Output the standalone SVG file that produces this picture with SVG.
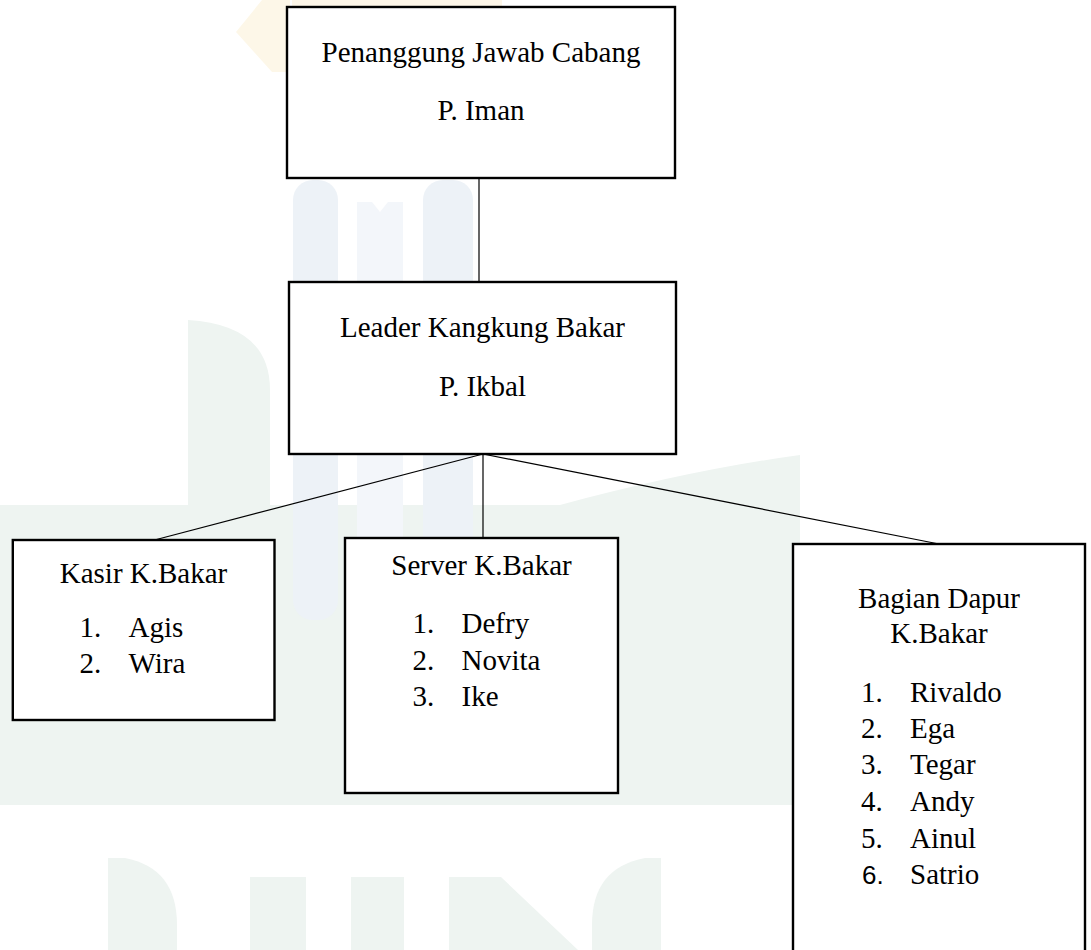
<svg xmlns="http://www.w3.org/2000/svg" width="1091" height="950" viewBox="0 0 1091 950">
<style>
.box{fill:#ffffff;stroke:#000000;stroke-width:2.4}
.con{stroke:#000000;stroke-width:1.2;fill:none}
.t{font-family:"Liberation Serif","Times New Roman",serif;font-size:29px;fill:#000000}
.c{text-anchor:middle}
.wm-g{fill:#eef4f1}
.wm-b{fill:#edf2f7}
</style>
<rect x="0" y="0" width="1091" height="950" fill="#ffffff"/>
<g id="watermark">
<path d="M262,0 L290,0 L290,72 L272,72 L236,32 Z" fill="#fdf7e8"/>
<rect x="292" y="0" width="210" height="7" fill="#fdf6e8"/>
<path class="wm-g" d="M0,505 L560,505 Q690,470 800,455 L800,805 L0,805 Z"/>
<path class="wm-g" d="M188,320 Q270,325 270,390 L270,805 L188,805 Z"/>
<rect class="wm-b" x="293" y="180" width="45" height="440" rx="20"/>
<path d="M357,202 L372,202 L380,212 L388,202 L403,202 L403,612 L357,612 Z" fill="#f3f6fa"/>
<rect class="wm-b" x="423" y="180" width="50" height="440" rx="20"/>
<path class="wm-g" d="M108,858 L125,858 Q177,868 177,925 L177,950 L108,950 Z"/>
<rect class="wm-g" x="250" y="877" width="56" height="73"/>
<rect class="wm-g" x="351" y="877" width="53" height="73"/>
<path class="wm-g" d="M449,877 L501,877 L578,950 L449,950 Z"/>
<path class="wm-g" d="M661,858 L645,858 Q592,868 592,925 L592,950 L661,950 Z"/>
</g>
<g id="connectors">
<line class="con" x1="479" y1="178" x2="479" y2="282"/>
<line class="con" x1="483" y1="454" x2="154.5" y2="540"/>
<line class="con" x1="483" y1="454" x2="483" y2="538"/>
<line class="con" x1="483" y1="454" x2="939" y2="544"/>
</g>
<g id="node-penanggung">
<rect class="box" x="287" y="7" width="388" height="171"/>
<text class="t c" x="481" y="62">Penanggung Jawab Cabang</text>
<text class="t c" x="481" y="120">P. Iman</text>
</g>
<g id="node-leader">
<rect class="box" x="289" y="282" width="387" height="172"/>
<text class="t c" x="482.5" y="337">Leader Kangkung Bakar</text>
<text class="t c" x="482.5" y="396">P. Ikbal</text>
</g>
<g id="node-kasir">
<rect class="box" x="12.8" y="540" width="261.7" height="180"/>
<text class="t c" x="143.5" y="583">Kasir K.Bakar</text>
<text class="t" x="79.5" y="637">1.</text><text class="t" x="128.5" y="637">Agis</text>
<text class="t" x="79.5" y="673">2.</text><text class="t" x="128.5" y="673">Wira</text>
</g>
<g id="node-server">
<rect class="box" x="345" y="538" width="273" height="255"/>
<text class="t c" x="481.5" y="575">Server K.Bakar</text>
<text class="t" x="412.5" y="633">1.</text><text class="t" x="461.5" y="633">Defry</text>
<text class="t" x="412.5" y="670">2.</text><text class="t" x="461.5" y="670">Novita</text>
<text class="t" x="412.5" y="706">3.</text><text class="t" x="461.5" y="706">Ike</text>
</g>
<g id="node-dapur">
<rect class="box" x="793" y="544" width="292" height="420"/>
<text class="t c" x="939" y="608">Bagian Dapur</text>
<text class="t c" x="939" y="643">K.Bakar</text>
<text class="t" x="861" y="702">1.</text><text class="t" x="910" y="702">Rivaldo</text>
<text class="t" x="861" y="738">2.</text><text class="t" x="910" y="738">Ega</text>
<text class="t" x="861" y="774">3.</text><text class="t" x="910" y="774">Tegar</text>
<text class="t" x="861" y="811">4.</text><text class="t" x="910" y="811">Andy</text>
<text class="t" x="861" y="848">5.</text><text class="t" x="910" y="848">Ainul</text>
<text x="862" y="884" style="font-family:'Liberation Sans',Arial,sans-serif;font-size:26px;fill:#000000">6.</text><text class="t" x="910" y="884">Satrio</text>
</g>
</svg>
